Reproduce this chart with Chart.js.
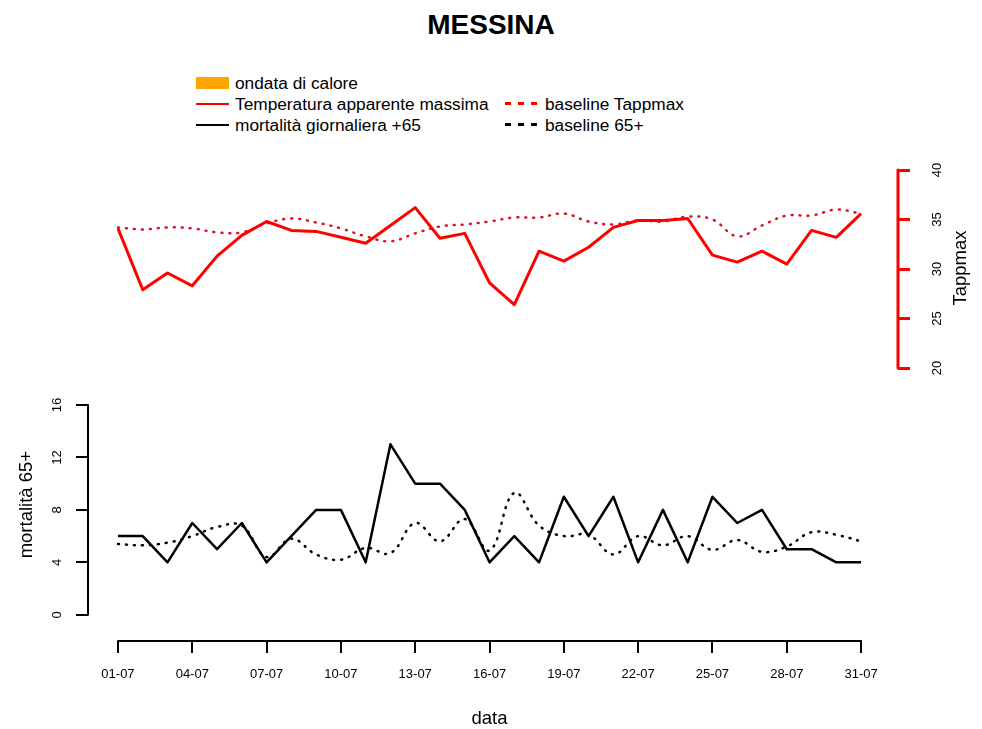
<!DOCTYPE html>
<html>
<head>
<meta charset="utf-8">
<title>MESSINA</title>
<script src="https://cdn.jsdelivr.net/npm/chart.js@4.4.1/dist/chart.umd.min.js"></script>
<style>
  body { margin: 0; background: #fff; font-family: "Liberation Sans", Arial, sans-serif; }
  #wrap { position: relative; width: 982px; height: 729px; overflow: hidden; }
  #titolo { position: absolute; left: 0; top: 9px; width: 982px; text-align: center; font-weight: bold; font-size: 28px; }
  .voce { position: absolute; font-size: 17.3px; line-height: 20px; white-space: nowrap; }
  .sw { position: absolute; width: 33px; }
  canvas { position: absolute; left: 0; }
</style>
</head>
<body>
<div id="wrap">
  <div id="titolo">MESSINA</div>

  <!-- legenda come in R, due colonne -->
  <div class="sw" style="left:196px; top:77px; height:12px; background:#ffa500"></div>
  <div class="voce" style="left:235px; top:73px">ondata di calore</div>
  <div class="sw" style="left:196px; top:103px; height:2px; background:red"></div>
  <div class="voce" style="left:235px; top:94px">Temperatura apparente massima</div>
  <div class="sw" style="left:505px; top:102px; height:3px; background:repeating-linear-gradient(to right, red 0 6px, transparent 6px 13px)"></div>
  <div class="voce" style="left:545px; top:94px">baseline Tappmax</div>
  <div class="sw" style="left:196px; top:124px; height:2px; background:#000"></div>
  <div class="voce" style="left:235px; top:115px">mortalità giornaliera +65</div>
  <div class="sw" style="left:505px; top:123px; height:3px; background:repeating-linear-gradient(to right, #000 0 6px, transparent 6px 13px)"></div>
  <div class="voce" style="left:545px; top:115px">baseline 65+</div>

  <canvas id="graficoTemp" width="982" height="240" style="top:150px"></canvas>
  <canvas id="graficoMort" width="982" height="339" style="top:390px"></canvas>
</div>

<script>
// giorni di luglio
const giorni = ['01-07', '02-07', '03-07', '04-07', '05-07', '06-07', '07-07', '08-07', '09-07', '10-07',
  '11-07', '12-07', '13-07', '14-07', '15-07', '16-07', '17-07', '18-07', '19-07', '20-07',
  '21-07', '22-07', '23-07', '24-07', '25-07', '26-07', '27-07', '28-07', '29-07', '30-07', '31-07']

// temperatura apparente massima e la sua baseline
const tappmax = [34.1, 27.9, 29.6, 28.3, 31.3, 33.4, 34.8, 33.9, 33.8, 33.2, 32.6, 34.4, 36.2, 33.1, 33.6, 28.6,
  26.4, 31.8, 30.8, 32.2, 34.2, 34.9, 34.9, 35.1, 31.4, 30.7, 31.8, 30.5, 33.9, 33.2, 35.6]
const tappmaxBaseline = [34.2, 34.0, 34.2, 34.1, 33.7, 33.7, 34.6, 35.1, 34.7, 34.1, 33.3, 32.8, 33.6, 34.3, 34.5, 34.8,
  35.2, 35.2, 35.6, 34.8, 34.5, 34.9, 34.8, 35.3, 35.0, 33.3, 34.4, 35.4, 35.4, 36.0, 35.6]

// mortalità giornaliera 65+ e la sua baseline
const mortalita = [6, 6, 4, 7, 5, 7, 4, 6, 8, 8, 4, 13, 10, 10, 8, 4, 6, 4, 9, 6, 9, 4, 8, 4, 9, 7, 8, 5, 5, 4, 4]
const mortalitaBaseline = [5.4, 5.3, 5.5, 6.0, 6.7, 6.8, 4.4, 5.8, 4.6, 4.2, 5.1, 4.7, 7.0, 5.6, 7.3, 4.9,
  9.3, 6.8, 6.0, 6.1, 4.6, 6.0, 5.3, 6.0, 4.95, 5.7, 4.8, 5.2, 6.3, 6.1, 5.6]

// etichette degli assi
const tickGiorni = [1, 4, 7, 10, 13, 16, 19, 22, 25, 28, 31]
const tickTapp = [20, 25, 30, 35, 40]
const tickMort = [0, 4, 8, 12, 16]

const punti = (valori) => valori.map((v, i) => ({ x: i + 1, y: v }))
const fontTick = { family: 'Liberation Sans, Arial, sans-serif', size: 13 }

// niente padding extra per le etichette: l'area del grafico resta quella fissata
const senzaPadding = (sc) => {
  sc.paddingTop = 0
  sc.paddingBottom = 0
  sc.paddingLeft = 0
  sc.paddingRight = 0
}

// assi stile R: la linea va solo dal primo all'ultimo tick, titoli ruotati
const assiR = {
  id: 'assiR',
  afterDraw(chart, args, opts) {
    const ctx = chart.ctx
    ctx.save()
    ;(opts.linee || []).forEach((l) => {
      const sc = chart.scales[l.scala]
      ctx.strokeStyle = l.colore
      ctx.lineWidth = l.spessore
      ctx.lineCap = 'round'
      ctx.beginPath()
      if (sc.isHorizontal()) {
        ctx.moveTo(sc.getPixelForValue(l.da), sc.top)
        ctx.lineTo(sc.getPixelForValue(l.a), sc.top)
      } else {
        const x = sc.position === 'left' ? sc.right : sc.left
        ctx.moveTo(x, sc.getPixelForValue(l.da))
        ctx.lineTo(x, sc.getPixelForValue(l.a))
      }
      ctx.stroke()
    })
    ;(opts.titoli || []).forEach((t) => {
      const sc = chart.scales[t.scala]
      let x, y
      if (sc.isHorizontal()) {
        x = sc.getPixelForValue(t.valore)
        y = sc.top + t.scarto
      } else {
        y = sc.getPixelForValue(t.valore)
        x = (sc.position === 'left' ? sc.right : sc.left) + t.scarto
      }
      ctx.translate(x, y)
      ctx.rotate(t.ruota ? -Math.PI / 2 : 0)
      ctx.font = '18.5px Liberation Sans, Arial, sans-serif'
      ctx.fillStyle = '#000'
      ctx.textAlign = 'center'
      ctx.textBaseline = 'middle'
      ctx.fillText(t.testo, 0, 0)
      ctx.setTransform(1, 0, 0, 1, 0, 0)
    })
    ctx.restore()
  },
}

const scalaX = (mostra) => ({
  type: 'linear',
  display: mostra,
  min: -0.21,
  max: 32.49,
  afterBuildTicks: (sc) => { sc.ticks = tickGiorni.map((v) => ({ value: v })) },
  afterFit: (sc) => {
    sc.height = mostra ? 88 : 0
    senzaPadding(sc)
  },
  border: { display: false },
  grid: { drawOnChartArea: false, drawTicks: true, tickLength: 12, color: '#000', lineWidth: 2 },
  ticks: {
    autoSkip: false, maxRotation: 0, padding: 14, color: '#000', font: fontTick,
    callback: (v) => giorni[v - 1],
  },
})

new Chart(document.getElementById('graficoTemp'), {
  type: 'line',
  data: {
    datasets: [
      {
        label: 'Temperatura apparente massima',
        data: punti(tappmax),
        borderColor: 'red',
        borderWidth: 3,
        borderJoinStyle: 'round',
        yAxisID: 'yT',
      },
      {
        label: 'baseline Tappmax',
        data: punti(tappmaxBaseline),
        borderColor: '#e0102a',
        borderWidth: 2.5,
        borderDash: [1, 7],
        borderCapStyle: 'round',
        tension: 0.4,
        yAxisID: 'yT',
      },
    ],
  },
  options: {
    responsive: false,
    animation: false,
    devicePixelRatio: 1,
    layout: { padding: { left: 88, right: 0, top: 20, bottom: 22 } },
    elements: { point: { radius: 0 } },
    scales: {
      x: scalaX(false),
      yT: {
        position: 'right',
        min: 20,
        max: 40,
        afterBuildTicks: (sc) => { sc.ticks = tickTapp.map((v) => ({ value: v })) },
        afterFit: (sc) => {
          sc.width = 84
          senzaPadding(sc)
        },
        border: { display: false },
        grid: { drawOnChartArea: false, drawTicks: true, tickLength: 12, color: 'red', lineWidth: 3 },
        ticks: { minRotation: 90, maxRotation: 90, crossAlign: 'center', padding: 20, color: '#000', font: fontTick },
      },
    },
    plugins: {
      legend: { display: false },
      tooltip: { enabled: false },
      assiR: {
        linee: [{ scala: 'yT', da: 20, a: 40, colore: 'red', spessore: 3 }],
        titoli: [{ scala: 'yT', valore: 30.1, scarto: 63, testo: 'Tappmax', ruota: true }],
      },
    },
  },
  plugins: [assiR],
})

new Chart(document.getElementById('graficoMort'), {
  type: 'line',
  data: {
    datasets: [
      {
        label: 'mortalità giornaliera +65',
        data: punti(mortalita),
        borderColor: '#000',
        borderWidth: 2.5,
        borderJoinStyle: 'round',
        yAxisID: 'yM',
      },
      {
        label: 'baseline 65+',
        data: punti(mortalitaBaseline),
        borderColor: '#000',
        borderWidth: 2.5,
        borderDash: [1, 7],
        borderCapStyle: 'round',
        tension: 0.4,
        yAxisID: 'yM',
      },
    ],
  },
  options: {
    responsive: false,
    animation: false,
    devicePixelRatio: 1,
    layout: { padding: { left: 0, right: 84, top: 15, bottom: 0 } },
    elements: { point: { radius: 0 } },
    scales: {
      x: scalaX(true),
      yM: {
        position: 'left',
        min: -2,
        max: 16,
        afterBuildTicks: (sc) => { sc.ticks = tickMort.map((v) => ({ value: v })) },
        afterFit: (sc) => {
          sc.width = 88
          senzaPadding(sc)
        },
        border: { display: false },
        grid: { drawOnChartArea: false, drawTicks: true, tickLength: 12, color: '#000', lineWidth: 2 },
        ticks: { minRotation: 90, maxRotation: 90, crossAlign: 'center', padding: 11, color: '#000', font: fontTick },
      },
    },
    plugins: {
      legend: { display: false },
      tooltip: { enabled: false },
      assiR: {
        linee: [
          { scala: 'yM', da: 0, a: 16, colore: '#000', spessore: 2 },
          { scala: 'x', da: 1, a: 31, colore: '#000', spessore: 2 },
        ],
        titoli: [
          { scala: 'yM', valore: 8.4, scarto: -61, testo: 'mortalità 65+', ruota: true },
          { scala: 'x', valore: 16, scarto: 78, testo: 'data', ruota: false },
        ],
      },
    },
  },
  plugins: [assiR],
})
</script>
</body>
</html>
